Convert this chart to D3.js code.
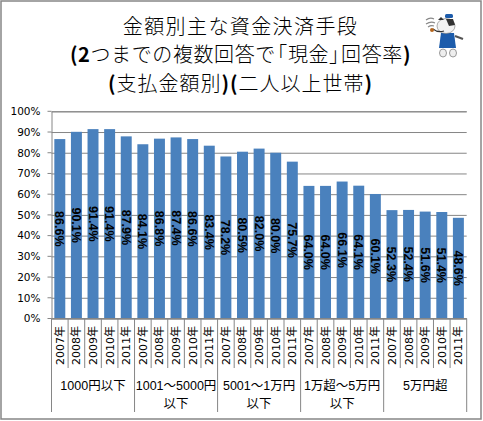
<!DOCTYPE html>
<html>
<head>
<meta charset="utf-8">
<script src="https://cdn.jsdelivr.net/npm/d3@7"></script>
<style>
html,body{margin:0;padding:0;background:#fff;overflow:hidden}
svg{display:block}
</style>
</head>
<body>
<div id="wrap"></div>
<script>
var years=["2007年","2008年","2009年","2010年","2011年"];
var groups=[["1000円以下"],["1001～5000円","以下"],["5001～1万円","以下"],["1万超～5万円","以下"],["5万円超"]];
var values=[86.6,90.1,91.4,91.4,87.9,84.1,86.8,87.4,86.6,83.4,78.2,80.5,82.0,80.0,75.7,64.0,64.0,66.1,64.1,60.1,52.3,52.4,51.6,51.4,48.6];
var titleLines=["金額別主な資金決済手段","(2つまでの複数回答で「現金」回答率)","(支払金額別)(二人以上世帯)"];
var yTicks=[0,10,20,30,40,50,60,70,80,90,100];

var bar_color="#4a81bd";
var axis_color="#868686";
var jp_font="'Noto Sans CJK JP',sans-serif";

var svg=d3.select('#wrap')
  .append('svg')
  .attr("width",483)
  .attr("height",421);

svg.append("rect")
  .attr("x",1).attr("y",1)
  .attr("width",480).attr("height",418)
  .attr("fill","#fff")
  .attr("stroke",axis_color)
  .attr("stroke-width",1.5);

// title, the ascii parts are heavier in the original
var title_spacing=[1.4,0.6,1];
var title_y=[33.5,61.5,90.5];
titleLines.forEach(function(line,i){
  var t=svg.append("text")
    .attr("x",240.5)
    .attr("y",title_y[i])
    .attr("text-anchor","middle")
    .style("font-family",jp_font)
    .style("font-size","20px")
    .style("font-weight","300")
    .style("letter-spacing",title_spacing[i]+"px")
    .attr("fill","#000");
  line.match(/[()2]+|で「|」|[^()2で」]+|で/g).forEach(function(part){
    var s=t.append("tspan").text(part);
    if(/^[()2]+$/.test(part)) s.style("font-weight","bold");
    if(part=="で「"){
      s.text("で").style("letter-spacing","-8px");
      t.append("tspan").text("「");
    }
    if(part=="」") s.style("letter-spacing","-8px");
  });
});

// mascot in the top right corner
var mascot=svg.append("g");
mascot.append("path").attr("d","M426 20q4-3 8-1M426 24q5-3 9-1M428 27q3-2 6-1").attr("fill","none").attr("stroke","#888").attr("stroke-width",1.2);
mascot.append("path").attr("d","M455 36l8 3").attr("stroke","#555").attr("stroke-width",2);
mascot.append("ellipse").attr("cx",443).attr("cy",53).attr("rx",3.5).attr("ry",4).attr("fill","#eee").attr("stroke","#999");
mascot.append("ellipse").attr("cx",453).attr("cy",53).attr("rx",3.5).attr("ry",4).attr("fill","#eee").attr("stroke","#999");
mascot.append("path").attr("d","M441 33h13l2 15h-17z").attr("fill","#1d5cab");
mascot.append("ellipse").attr("cx",446).attr("cy",26).attr("rx",9).attr("ry",7.5).attr("fill","#f2f2f2").attr("stroke","#777").attr("stroke-width",0.6);
mascot.append("path").attr("d","M446 19h7l2 6-6 1z").attr("fill","#333");
mascot.append("path").attr("d","M438 20l3-3 3 3z").attr("fill","#333");
mascot.append("rect").attr("x",445).attr("y",14).attr("width",8).attr("height",4).attr("rx",1.5).attr("fill","#1d5cab");
mascot.append("path").attr("d","M444 31q-6 2-11-2").attr("fill","none").attr("stroke","#333").attr("stroke-width",1.1);
mascot.append("circle").attr("cx",432).attr("cy",30).attr("r",2).attr("fill","#b5651d");

var keys=[];
groups.forEach(function(g,gi){
  years.forEach(function(y){keys.push(gi+"|"+y)});
});

var x=d3.scaleBand().domain(keys).range([51.5,466.7]).paddingInner(0.34).paddingOuter(0.17);
var y=d3.scaleLinear().domain([0,100]).range([318.5,111.3]);

// gridlines
svg.append("g")
  .call(d3.axisLeft(y).tickValues(yTicks).tickSize(-415.2).tickFormat(function(d){return d+"%"}))
  .attr("transform","translate(51.5,0)")
  .call(function(g){
    g.select(".domain").attr("stroke",axis_color);
    g.selectAll("line").attr("stroke",axis_color);
    g.selectAll("text")
      .attr("x",-11)
      .attr("fill","#000")
      .style("font-family","'DejaVu Sans',sans-serif")
      .style("font-size","10.5px");
  });

// short outer ticks on the axis side
svg.append("g").selectAll("line")
  .data(yTicks)
  .enter().append("line")
  .attr("x1",47.5).attr("x2",51.5)
  .attr("y1",function(d){return y(d)})
  .attr("y2",function(d){return y(d)})
  .attr("stroke",axis_color);

// bars
svg.selectAll(".bar")
  .data(values)
  .enter().append("rect")
  .attr("class","bar")
  .attr("x",function(d,i){return x(keys[i])})
  .attr("y",function(d){return y(d)})
  .attr("width",x.bandwidth())
  .attr("height",function(d){return y(0)-y(d)})
  .attr("fill",bar_color);

// value labels
svg.selectAll(".val")
  .data(values)
  .enter().append("text")
  .attr("class","val")
  .attr("transform",function(d,i){
    return "translate("+(x(keys[i])+x.bandwidth()/2)+","+((y(d)+y(0))/2)+") rotate(90)";
  })
  .attr("text-anchor","middle")
  .attr("dy","0.36em")
  .style("font-family","'Liberation Sans',sans-serif")
  .style("font-weight","bold")
  .style("font-size","12.5px")
  .attr("fill","#000")
  .text(function(d){return d.toFixed(1)+"%"});

// category axis
var step=x.step();
var left=x(keys[0])-(x.step()-x.bandwidth())/2;
svg.append("line")
  .attr("x1",51.5).attr("x2",466.7)
  .attr("y1",y(0)).attr("y2",y(0))
  .attr("stroke",axis_color);

svg.selectAll(".tick2")
  .data(d3.range(keys.length+1))
  .enter().append("line")
  .attr("class","tick2")
  .attr("x1",function(i){return left+i*step})
  .attr("x2",function(i){return left+i*step})
  .attr("y1",y(0))
  .attr("y2",function(i){return i%years.length==0?412:368})
  .attr("stroke",axis_color);

svg.selectAll(".year")
  .data(keys)
  .enter().append("text")
  .attr("class","year")
  .attr("transform",function(d){
    return "translate("+(x(d)+x.bandwidth()/2)+",326) rotate(-90)";
  })
  .attr("text-anchor","end")
  .attr("dy","0.36em")
  .style("font-family","'DejaVu Sans','Noto Sans CJK JP',sans-serif")
  .style("font-size","11px")
  .attr("fill","#000")
  .text(function(d){return d.split("|")[1]});

groups.forEach(function(g,gi){
  var cx=left+(gi+0.5)*years.length*step;
  g.forEach(function(line,li){
    svg.append("text")
      .attr("x",cx)
      .attr("y",390+li*18)
      .attr("text-anchor","middle")
      .style("font-family","'Liberation Sans','Noto Sans CJK JP',sans-serif")
      .style("font-size","12.5px")
      .attr("fill","#000")
      .text(line);
  });
});
</script>
</body>
</html>
